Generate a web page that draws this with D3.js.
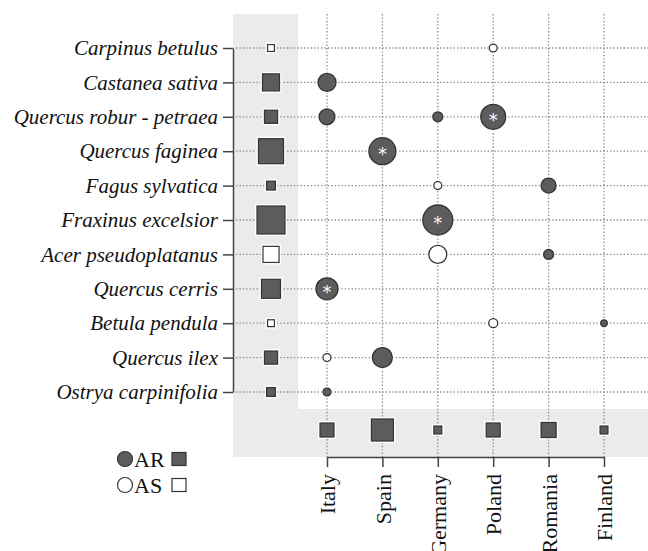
<!DOCTYPE html>
<html>
<head>
<meta charset="utf-8">
<script src="https://cdn.jsdelivr.net/npm/d3@7"></script>
<style>
  body { margin: 0; background: #fff; }
  text { font-family: "Liberation Serif", "DejaVu Serif", serif; }
</style>
</head>
<body>
<script>
const W = 648
const H = 551

// species (rows) and countries (columns)
var species = ['Carpinus betulus', 'Castanea sativa', 'Quercus robur - petraea', 'Quercus faginea',
  'Fagus sylvatica', 'Fraxinus excelsior', 'Acer pseudoplatanus', 'Quercus cerris',
  'Betula pendula', 'Quercus ilex', 'Ostrya carpinifolia']
var countries = ['Italy', 'Spain', 'Germany', 'Poland', 'Romania', 'Finland']

// row totals (left squares) and their type
var speciesTotal = [6, 37, 22, 80, 10, 100, 33, 46, 6, 22, 10]
var speciesType = ['AS', 'AR', 'AR', 'AR', 'AR', 'AR', 'AS', 'AR', 'AS', 'AR', 'AR']

// column totals (bottom squares)
var countryTotal = [25, 62, 8, 25, 29, 8]

// cells: [species, country, value, type, significant]
var cells = [
  ['Carpinus betulus', 'Poland', 7, 'AS', false],
  ['Castanea sativa', 'Italy', 36, 'AR', false],
  ['Quercus robur - petraea', 'Italy', 28, 'AR', false],
  ['Quercus robur - petraea', 'Germany', 11, 'AR', false],
  ['Quercus robur - petraea', 'Poland', 69, 'AR', true],
  ['Quercus faginea', 'Spain', 81, 'AR', true],
  ['Fagus sylvatica', 'Germany', 7, 'AS', false],
  ['Fagus sylvatica', 'Romania', 25, 'AR', false],
  ['Fraxinus excelsior', 'Germany', 100, 'AR', true],
  ['Acer pseudoplatanus', 'Germany', 36, 'AS', false],
  ['Acer pseudoplatanus', 'Romania', 11, 'AR', false],
  ['Quercus cerris', 'Italy', 54, 'AR', true],
  ['Betula pendula', 'Poland', 9, 'AS', false],
  ['Betula pendula', 'Finland', 5, 'AR', false],
  ['Quercus ilex', 'Italy', 7, 'AS', false],
  ['Quercus ilex', 'Spain', 44, 'AR', false],
  ['Ostrya carpinifolia', 'Italy', 7, 'AR', false]
]

const darkFill = '#5c5c5c'
const darkStroke = '#333'
const gray = '#ebebeb'
const gridColor = '#8a8a8a'

var yScale = d3.scalePoint().domain(species).range([48, 392])
var xScale = d3.scalePoint().domain(countries).range([327, 604])
var rScale = d3.scaleSqrt().domain([0, 100]).range([0, 15])
var sScale = d3.scaleSqrt().domain([0, 100]).range([0, 28])

const sideX = 271
const bottomY = 430

const svg = d3.select('body').append('svg')
  .attr('width', W)
  .attr('height', H)

// gray margin panels
svg.append('rect').attr('x', 233).attr('y', 14).attr('width', 65).attr('height', 443).attr('fill', gray)
svg.append('rect').attr('x', 233).attr('y', 409).attr('width', W - 233).attr('height', 48).attr('fill', gray)

// dotted grid
svg.selectAll('.hgrid')
  .data(species)
  .enter()
  .append('line')
  .attr('x1', 236).attr('x2', W)
  .attr('y1', d => yScale(d)).attr('y2', d => yScale(d))
  .attr('stroke', gridColor).attr('stroke-width', 1.3)
  .attr('stroke-dasharray', '1.4,2')

svg.selectAll('.vgrid')
  .data(countries)
  .enter()
  .append('line')
  .attr('x1', d => xScale(d)).attr('x2', d => xScale(d))
  .attr('y1', 14).attr('y2', 457)
  .attr('stroke', gridColor).attr('stroke-width', 1.3)
  .attr('stroke-dasharray', '1.4,2')

// axes
const yAxis = d3.axisLeft(yScale).tickSize(10).tickSizeOuter(0)
const gy = svg.append('g').attr('transform', 'translate(233,0)').call(yAxis)
gy.select('.domain').attr('stroke', '#444').attr('stroke-width', 1.5)
gy.selectAll('.tick line').attr('stroke', '#444').attr('stroke-width', 1.5)
gy.selectAll('.tick text')
  .attr('x', -15)
  .attr('fill', '#111')
  .style('font-family', '"Liberation Serif", serif')
  .style('font-style', 'italic')
  .style('font-size', '21px')

const xAxis = d3.axisBottom(xScale).tickSize(10).tickSizeOuter(0)
const gx = svg.append('g').attr('transform', 'translate(0,457)').call(xAxis)
gx.select('.domain').attr('stroke', '#444').attr('stroke-width', 1.5)
gx.selectAll('.tick line').attr('stroke', '#444').attr('stroke-width', 1.5)
gx.selectAll('.tick text')
  .attr('transform', 'rotate(-90)')
  .attr('x', -17)
  .attr('y', 0)
  .attr('dy', '0.35em')
  .attr('text-anchor', 'end')
  .attr('fill', '#111')
  .style('font-family', '"Liberation Serif", serif')
  .style('font-size', '22px')

// squares helper
function squares(sel, cx, cy, side, type) {
  sel.append('rect')
    .attr('x', d => cx(d) - side(d) / 2 - 2)
    .attr('y', d => cy(d) - side(d) / 2 - 2)
    .attr('width', d => side(d) + 4)
    .attr('height', d => side(d) + 4)
    .attr('fill', '#fff')
  sel.append('rect')
    .attr('x', d => cx(d) - side(d) / 2)
    .attr('y', d => cy(d) - side(d) / 2)
    .attr('width', d => side(d))
    .attr('height', d => side(d))
    .attr('fill', d => type(d) == 'AR' ? darkFill : '#fff')
    .attr('stroke', darkStroke)
    .attr('stroke-width', 1.2)
}

var leftSq = svg.selectAll('.lsq')
  .data(species.map((s, i) => ({ s: s, v: speciesTotal[i], t: speciesType[i] })))
  .enter().append('g')
squares(leftSq, d => sideX, d => yScale(d.s), d => sScale(d.v), d => d.t)

var botSq = svg.selectAll('.bsq')
  .data(countries.map((c, i) => ({ c: c, v: countryTotal[i] })))
  .enter().append('g')
squares(botSq, d => xScale(d.c), d => bottomY, d => sScale(d.v), d => 'AR')

// bubbles
var bub = svg.selectAll('.bub')
  .data(cells)
  .enter().append('g')
  .attr('transform', d => 'translate(' + xScale(d[1]) + ',' + yScale(d[0]) + ')')

bub.append('circle')
  .attr('r', d => rScale(d[2]) + 1.5)
  .attr('fill', '#fff')
bub.append('circle')
  .attr('r', d => rScale(d[2]))
  .attr('fill', d => d[3] == 'AR' ? darkFill : '#fff')
  .attr('stroke', darkStroke)
  .attr('stroke-width', 1.3)
bub.filter(d => d[4])
  .append('text')
  .attr('text-anchor', 'middle')
  .attr('y', 9)
  .attr('fill', '#fff')
  .style('font-family', '"DejaVu Sans", sans-serif')
  .style('font-size', '18px')
  .text('*')

// legend
var legendTypes = ['AR', 'AS']
var leg = svg.selectAll('.leg')
  .data(legendTypes)
  .enter().append('g')
  .attr('transform', (d, i) => 'translate(0,' + (459 + i * 26) + ')')
leg.append('circle')
  .attr('cx', 125).attr('r', 7.5)
  .attr('fill', d => d == 'AR' ? darkFill : '#fff')
  .attr('stroke', darkStroke).attr('stroke-width', 1.2)
leg.append('text')
  .attr('x', 134).attr('y', 7.5)
  .attr('fill', '#111')
  .style('font-size', '22px')
  .text(d => d)
leg.append('rect')
  .attr('x', 172).attr('y', -6.5)
  .attr('width', 14).attr('height', 13)
  .attr('fill', d => d == 'AR' ? darkFill : '#fff')
  .attr('stroke', darkStroke).attr('stroke-width', 1.2)
</script>
</body>
</html>
